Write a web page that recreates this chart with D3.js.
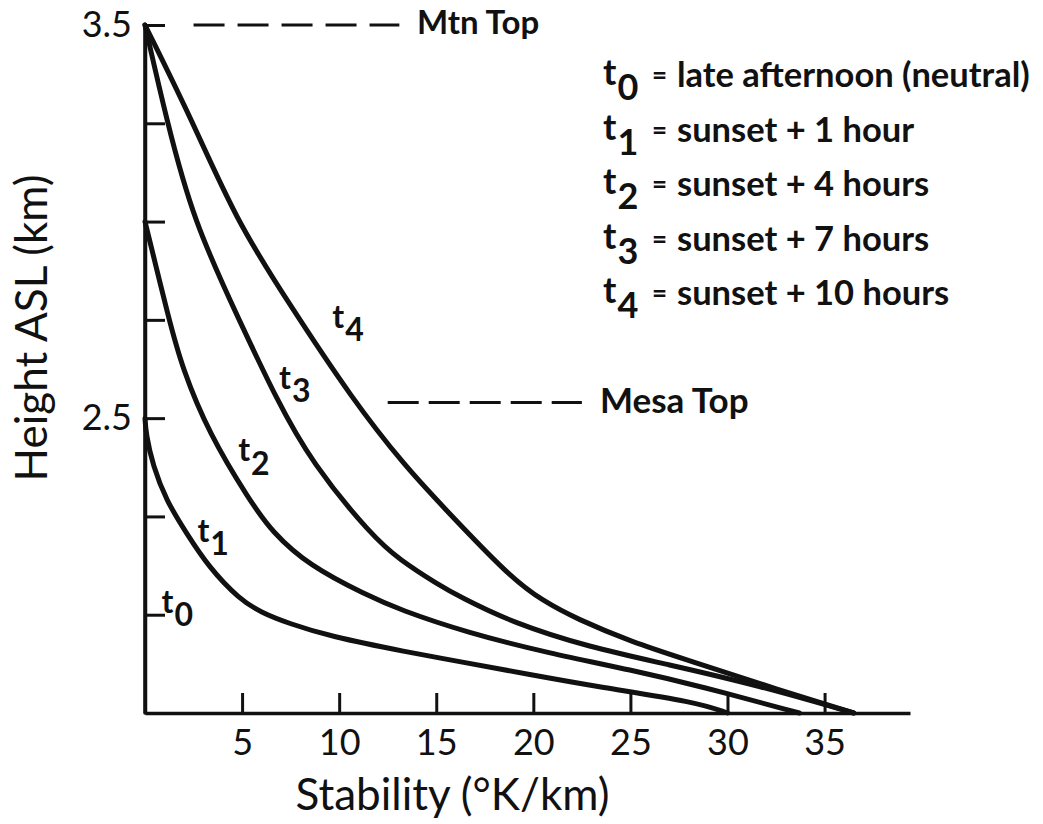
<!DOCTYPE html>
<html>
<head>
<meta charset="utf-8">
<script src="https://cdn.jsdelivr.net/npm/d3@7"></script>
<style>
body { margin: 0; background: #fff; }
text { font-family: Lato, "Open Sans", sans-serif; fill: #111; }
</style>
</head>
<body>
<div id="chart"></div>
<script>
// profiles as [stability (K/km), height ASL (km)]
var seriesNames = ["0", "1", "2", "3", "4"]
var legendText = ["late afternoon (neutral)", "sunset + 1 hour", "sunset + 4 hours", "sunset + 7 hours", "sunset + 10 hours"]
var t0Profile = [[0, 1.75], [0, 3.5]]
var t1Profile = [[0, 2.5], [0.05, 2.46], [0.4, 2.38], [1.1, 2.29], [2.1, 2.21], [3.3, 2.12], [4.85, 2.04], [6.0, 2.005], [7.4, 1.978], [9.5, 1.945], [13.5, 1.905], [16.3, 1.88], [19.8, 1.848], [23.4, 1.816], [28.4, 1.778], [30.0, 1.75]]
var t2Profile = [[0, 3.0], [1.24, 2.75], [1.9, 2.63], [3.3, 2.46], [5.4, 2.29], [6.55, 2.21], [8.45, 2.125], [11.4, 2.05], [13.1, 2.013], [16.55, 1.955], [20.8, 1.902], [25.1, 1.859], [28.6, 1.818], [33.7, 1.75]]
var t3Profile = [[0, 3.5], [1.1, 3.26], [2.5, 3.0], [4.85, 2.75], [6.75, 2.55], [8.6, 2.385], [11.7, 2.2], [13.1, 2.14], [15.15, 2.075], [16.2, 2.046], [18.9, 1.98], [22.9, 1.917], [26.9, 1.874], [31.6, 1.82], [36.5, 1.75]]
var t4Profile = [[0, 3.5], [2.42, 3.258], [4.69, 3.004], [7.3, 2.8], [10.7, 2.546], [13.45, 2.375], [15.15, 2.285], [18.8, 2.095], [20.5, 2.035], [22.2, 1.99], [25.1, 1.93], [28.0, 1.884], [32.7, 1.808], [36.5, 1.75]]
var profiles = [t0Profile, t1Profile, t2Profile, t3Profile, t4Profile]

var xTicks = [5, 10, 15, 20, 25, 30, 35]
var yTicks = [2, 2.25, 2.5, 2.75, 3, 3.25, 3.5]
var yLabelled = [2.5, 3.5]
var mtnTop = 3.5
var mesaTop = 2.54

var width = 1043, height = 824

var x = d3.scaleLinear().domain([0, 39.4]).range([145, 910])
var y = d3.scaleLinear().domain([1.75, 3.5]).range([713, 25])

var svg = d3.select("#chart").append("svg")
    .attr("width", width)
    .attr("height", height)

/* axes */
var xAxis = d3.axisBottom(x).tickValues(xTicks).tickSizeInner(-20).tickSizeOuter(0).tickPadding(16)
var yAxis = d3.axisLeft(y).tickValues(yTicks).tickSizeInner(-20).tickSizeOuter(0).tickPadding(13)
    .tickFormat(d => yLabelled.indexOf(d) !== -1 ? d3.format(".1f")(d) : "")

var gx = svg.append("g").attr("transform", `translate(0, ${y(1.75)})`).call(xAxis)
var gy = svg.append("g").attr("transform", `translate(${x(0)}, 0)`).call(yAxis)

;[gx, gy].forEach(g => {
    g.select(".domain").attr("stroke", "#111").attr("stroke-width", 3.5)
    g.selectAll(".tick line").attr("stroke", "#111").attr("stroke-width", 3)
    g.selectAll(".tick text").attr("fill", "#111")
        .style("font-size", "36px").style("font-family", "Lato, sans-serif")
})

/* profiles */
var line = d3.line()
    .x(d => x(d[0]))
    .y(d => y(d[1]))
    .curve(d3.curveBasis)

svg.append("g").attr("class", "lines")
    .selectAll("path")
    .data(profiles).enter()
    .append("path")
    .attr("d", d => line(d))
    .attr("fill", "none")
    .attr("stroke", "#111")
    .attr("stroke-width", (d, i) => i === 0 ? 3.5 : 5)
    .attr("stroke-linecap", "round")
    .attr("stroke-linejoin", "round")

/* t labels with subscripts */
var tLabel = (g, px, py, n, size) => {
    var t = g.append("text").attr("x", px).attr("y", py)
        .style("font-size", size + "px").style("font-weight", 700)
    t.append("tspan").text("t")
    t.append("tspan").attr("dy", size * 0.42).attr("dx", 1).text(n)
}

// curve label anchors in data units
var labelAt = [[0.85, 2.005], [2.7, 2.185], [4.8, 2.39], [6.9, 2.575], [9.65, 2.73]]
var labels = svg.append("g")
seriesNames.forEach((n, i) => tLabel(labels, x(labelAt[i][0]), y(labelAt[i][1]), n, 32))

/* legend */
var legend = svg.append("g")
legendText.forEach((txt, i) => {
    var ly = 87 + i * 54.5
    tLabel(legend, 603, ly - 2, seriesNames[i], 36)
    legend.append("text").attr("x", 652).attr("y", ly - 3)
        .style("font-size", "26px").style("font-weight", 700).text("=")
    legend.append("text").attr("x", 677).attr("y", ly)
        .style("font-size", "34.5px").style("font-weight", 700).text(txt)
})

/* Mtn Top / Mesa Top */
svg.append("line")
    .attr("x1", x(2.5)).attr("x2", x(13.1))
    .attr("y1", y(mtnTop)).attr("y2", y(mtnTop))
    .attr("stroke", "#111").attr("stroke-width", 3).attr("stroke-dasharray", "31 13")
svg.append("text").attr("x", 417).attr("y", y(mtnTop) + 9)
    .style("font-size", "33px").style("font-weight", 700).text("Mtn Top")

svg.append("line")
    .attr("x1", x(12.5)).attr("x2", x(22.5))
    .attr("y1", y(mesaTop)).attr("y2", y(mesaTop))
    .attr("stroke", "#111").attr("stroke-width", 3).attr("stroke-dasharray", "31 10")
svg.append("text").attr("x", 600).attr("y", y(mesaTop) + 11)
    .style("font-size", "35px").style("font-weight", 700).text("Mesa Top")

/* axis titles */
svg.append("text")
    .attr("x", (x(0) + x(39.4)) / 2 - 75).attr("y", 810)
    .attr("text-anchor", "middle")
    .style("font-size", "44px")
    .text("Stability (°K/km)")

svg.append("text")
    .attr("transform", `translate(47, 328) rotate(-90)`)
    .attr("text-anchor", "middle")
    .style("font-size", "44px")
    .text("Height ASL (km)")
</script>
</body>
</html>
